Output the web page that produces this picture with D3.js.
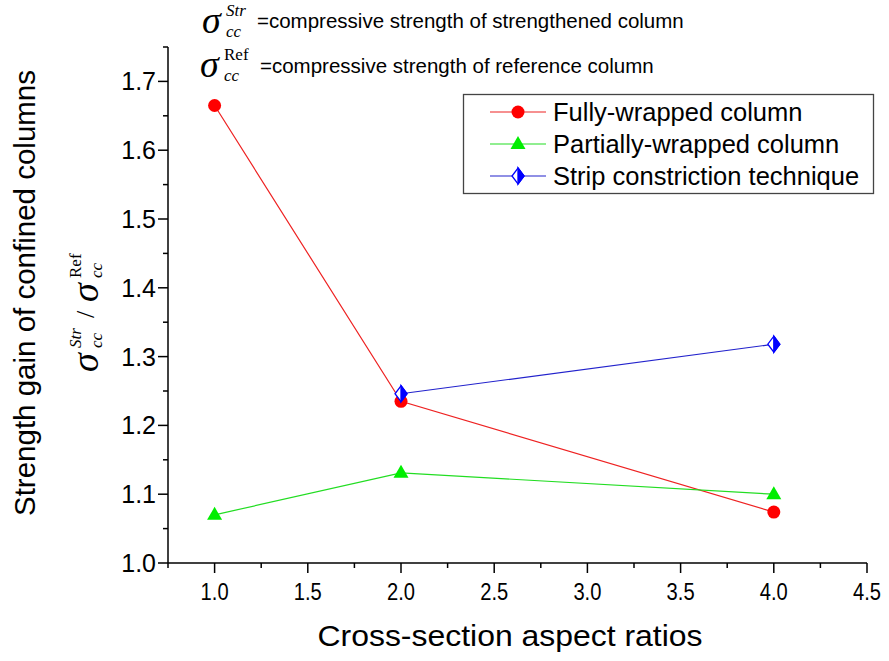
<!DOCTYPE html>
<html>
<head>
<meta charset="utf-8">
<script src="https://cdn.jsdelivr.net/npm/d3@7"></script>
<style>
  body { margin: 0; background: #fff; }
  text { font-family: "Liberation Sans", Arial, sans-serif; }
</style>
</head>
<body>
<div id="viz"></div>
<script>
// data
var ratios = [1, 2, 4];
var fullyWrapped = [1.665, 1.235, 1.074];
var partiallyWrapped = [1.070, 1.131, 1.100];
var stripRatios = [2, 4];
var stripConstriction = [1.246, 1.318];
var xTicks = [1.0, 1.5, 2.0, 2.5, 3.0, 3.5, 4.0, 4.5];
var yTicks = [1.0, 1.1, 1.2, 1.3, 1.4, 1.5, 1.6, 1.7];

var width = 889, height = 661;
var margin = { top: 47, right: 22, bottom: 98, left: 168 };
var serif = '"Liberation Serif", "Times New Roman", serif';

var svg = d3.select('#viz').append('svg')
    .attr('width', width)
    .attr('height', height);

var x = d3.scaleLinear()
    .domain([0.75, 4.5])
    .range([margin.left, width - margin.right]);
var y = d3.scaleLinear()
    .domain([1.0, 1.75])
    .range([height - margin.bottom, margin.top]);

// axes
var xAxis = svg.append('g')
    .attr('transform', 'translate(0,' + y(1.0) + ')');
xAxis.append('line')
    .attr('x1', x(0.75)).attr('x2', x(4.5))
    .attr('stroke', '#000').attr('stroke-width', 1.5);
xAxis.selectAll('.minor')
    .data(d3.range(0.75, 4.51, 0.25))
    .enter().append('line')
    .attr('x1', d => x(d)).attr('x2', d => x(d))
    .attr('y1', 0)
    .attr('y2', d => Math.abs(d * 2 - Math.round(d * 2)) < 0.01 ? 10 : 5)
    .attr('stroke', '#000').attr('stroke-width', 1.5);
xAxis.selectAll('.lbl')
    .data(xTicks).enter().append('text')
    .attr('x', d => x(d)).attr('y', 37)
    .attr('text-anchor', 'middle')
    .attr('textLength', 28)
    .attr('lengthAdjust', 'spacingAndGlyphs')
    .style('font-size', '23px')
    .text(d => d.toFixed(1));

var yAxis = svg.append('g')
    .attr('transform', 'translate(' + x(0.75) + ',0)');
yAxis.append('line')
    .attr('y1', y(1.0)).attr('y2', y(1.75))
    .attr('stroke', '#000').attr('stroke-width', 1.5);
yAxis.selectAll('.minor')
    .data(d3.range(1.0, 1.751, 0.05))
    .enter().append('line')
    .attr('y1', d => y(d)).attr('y2', d => y(d))
    .attr('x1', 0)
    .attr('x2', d => Math.abs(d * 10 - Math.round(d * 10)) < 0.01 ? -10 : -5)
    .attr('stroke', '#000').attr('stroke-width', 1.5);
yAxis.selectAll('.lbl')
    .data(yTicks).enter().append('text')
    .attr('x', -12).attr('y', d => y(d) + 9)
    .attr('text-anchor', 'end')
    .style('font-size', '25px')
    .text(d => d.toFixed(1));

// axis titles
svg.append('text')
    .attr('x', 510).attr('y', 646)
    .attr('text-anchor', 'middle')
    .attr('textLength', 385)
    .attr('lengthAdjust', 'spacingAndGlyphs')
    .style('font-size', '30px')
    .text('Cross-section aspect ratios');

svg.append('text')
    .attr('transform', 'translate(35,' + 293 + ') rotate(-90)')
    .attr('text-anchor', 'middle')
    .style('font-size', '29.5px')
    .text('Strength gain of confined columns');

// sigma with super- and subscript
function sigma(g, sup, supItalic) {
    g.append('text')
        .attr('x', 0).attr('y', 0)
        .style('font-family', serif)
        .style('font-style', 'italic')
        .style('font-size', '38px')
        .text('\u03c3');
    g.append('text')
        .attr('x', 24).attr('y', -17)
        .style('font-family', serif)
        .style('font-style', supItalic ? 'italic' : 'normal')
        .style('font-size', '17px')
        .text(sup);
    g.append('text')
        .attr('x', 24).attr('y', 4)
        .style('font-family', serif)
        .style('font-style', 'italic')
        .style('font-size', '17px')
        .text('cc');
}

sigma(svg.append('g').attr('transform', 'translate(202,33)'), 'Str', true);
svg.append('text').attr('x', 257).attr('y', 28)
    .style('font-size', '20.5px')
    .text('=compressive strength of strengthened column');

sigma(svg.append('g').attr('transform', 'translate(200,77)'), 'Ref', false);
svg.append('text').attr('x', 260).attr('y', 73)
    .style('font-size', '20.5px')
    .text('=compressive strength of reference column');

// rotated ratio label
var yl = svg.append('g').attr('transform', 'translate(98,372) rotate(-90)');
sigma(yl.append('g'), 'Str', true);
yl.append('text').attr('x', 54).attr('y', -4)
    .style('font-family', serif)
    .style('font-size', '26px')
    .text('/');
sigma(yl.append('g').attr('transform', 'translate(70,0)'), 'Ref', false);

// series
var line = d3.line().x(d => x(d[0])).y(d => y(d[1]));

var series = [
    { name: 'Fully-wrapped column', color: '#ee2222', marker: 'circle',
      pts: d3.zip(ratios, fullyWrapped) },
    { name: 'Partially-wrapped column', color: '#22dd22', marker: 'triangle',
      pts: d3.zip(ratios, partiallyWrapped) },
    { name: 'Strip constriction technique', color: '#2222cc', marker: 'diamond',
      pts: d3.zip(stripRatios, stripConstriction) }
];

function drawMarker(g, type) {
    if (type === 'circle') {
        g.append('circle').attr('r', 6.5).attr('fill', '#ff0000');
    } else if (type === 'triangle') {
        g.append('path').attr('d', 'M0,-8 L7.5,5 L-7.5,5 Z').attr('fill', '#00ee00');
    } else {
        g.append('path').attr('d', 'M0,-8 L6,0 L0,8 L-6,0 Z')
            .attr('fill', '#fff').attr('stroke', '#0000ff').attr('stroke-width', 1.3);
        g.append('path').attr('d', 'M0,-8 L6,0 L0,8 Z')
            .attr('fill', '#0000ff').attr('stroke', '#0000ff').attr('stroke-width', 1.3);
    }
}

series.forEach(function(s) {
    svg.append('path')
        .datum(s.pts)
        .attr('d', line)
        .attr('fill', 'none')
        .attr('stroke', s.color)
        .attr('stroke-width', 1.2);
});
series.forEach(function(s) {
    svg.selectAll(null)
        .data(s.pts).enter()
        .append('g')
        .attr('transform', d => 'translate(' + x(d[0]) + ',' + y(d[1]) + ')')
        .each(function() { drawMarker(d3.select(this), s.marker); });
});

// legend
var legend = svg.append('g');
legend.append('rect')
    .attr('x', 463.5).attr('y', 94.5)
    .attr('width', 410).attr('height', 99)
    .attr('fill', '#fff').attr('stroke', '#444').attr('stroke-width', 1.3);
series.forEach(function(s, i) {
    var ly = 112 + i * 32;
    legend.append('line')
        .attr('x1', 490).attr('x2', 546)
        .attr('y1', ly).attr('y2', ly)
        .attr('stroke', s.color).attr('stroke-width', 1.2);
    drawMarker(legend.append('g').attr('transform', 'translate(518,' + ly + ')'), s.marker);
    legend.append('text')
        .attr('x', 553).attr('y', ly + 9)
        .style('font-size', '25.5px')
        .text(s.name);
});
</script>
</body>
</html>
